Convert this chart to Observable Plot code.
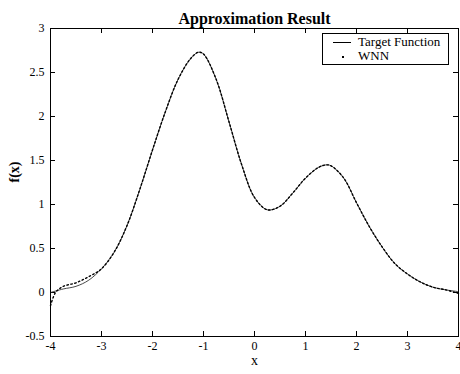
<!DOCTYPE html>
<html><head><meta charset="utf-8">
<script src="https://cdn.jsdelivr.net/npm/d3@7"></script>
<script src="https://cdn.jsdelivr.net/npm/@observablehq/plot@0.6"></script>
<style>
body{margin:0;background:#fff}
#wrap{position:relative;width:460px;height:374px}
#legend{position:absolute;left:322px;top:33px;width:127px;height:32px;border:1px solid #000;background:#fff;font-family:"Liberation Serif",serif;font-size:13px;line-height:14px;box-sizing:border-box}
#legend .row{position:absolute;left:0;height:14px}
#legend .sw{position:absolute;left:10px;top:7px;width:18px;height:0;border-top:1px solid #000}
#legend .dot{position:absolute;left:19px;top:7px;width:2px;height:2px;background:#000}
#legend .lab{position:absolute;left:35px;top:0;white-space:nowrap}
</style>
</head><body>
<div id="wrap"><div id="chart"></div>
<div id="legend">
  <div class="row" style="top:1px"><div class="sw"></div><div class="lab" id="l0"></div></div>
  <div class="row" style="top:15px"><div class="dot"></div><div class="lab" id="l1"></div></div>
</div></div>
<script>
const titleText = "Approximation Result";
const xLabel = "x";
const yLabel = "f(x)";
const legendLabels = ["Target Function", "WNN"];

const targetX = [-4,-3.75,-3.5,-3.25,-3,-2.75,-2.5,-2.25,-2,-1.75,-1.5,-1.25,-1.1,-1,-0.75,-0.5,-0.25,0,0.25,0.5,0.75,1,1.25,1.4,1.5,1.75,2,2.25,2.5,2.75,3,3.25,3.5,3.75,4];
const targetY = [0.0,0.04,0.07,0.14,0.27,0.46,0.76,1.17,1.62,2.05,2.42,2.66,2.73,2.71,2.42,1.94,1.45,1.08,0.94,0.98,1.13,1.30,1.42,1.45,1.44,1.30,1.02,0.75,0.52,0.33,0.21,0.12,0.06,0.03,0.01];

const wnnX = [-4,-3.9,-3.75,-3.5,-3.25,-3,-2.75,-2.5,-2.25,-2,-1.75,-1.5,-1.25,-1.1,-1,-0.75,-0.5,-0.25,0,0.25,0.5,0.75,1,1.25,1.4,1.5,1.75,2,2.25,2.5,2.75,3,3.25,3.5,3.75,4];
const wnnY = [-0.15,0.0,0.07,0.11,0.18,0.27,0.46,0.76,1.17,1.62,2.05,2.42,2.66,2.73,2.71,2.42,1.94,1.45,1.08,0.94,0.98,1.13,1.30,1.42,1.45,1.44,1.30,1.02,0.75,0.52,0.33,0.21,0.12,0.06,0.03,-0.01];

const xTicks = [-4,-3,-2,-1,0,1,2,3,4];
const xTickLabels = ["-4","-3","-2","-1","0","1","2","3","4"];
const yTicks = [-0.5,0,0.5,1,1.5,2,2.5,3];
const yTickLabels = ["-0.5","0","0.5","1","1.5","2","2.5","3"];

const target = targetX.map((x,i)=>({x, y: targetY[i]}));
const wnn = wnnX.map((x,i)=>({x, y: wnnY[i]}));

document.getElementById("l0").textContent = legendLabels[0];
document.getElementById("l1").textContent = legendLabels[1];

const W = 460, H = 374, mL = 50, mR = 2, mT = 28, mB = 38;
const fw = W - mL - mR, fh = H - mT - mB, tk = 5;

const chart = Plot.plot({
  width: W, height: H,
  marginLeft: mL, marginRight: mR, marginTop: mT, marginBottom: mB,
  style: {fontFamily: "Liberation Serif, serif", fontSize: "12px", background: "#fff", color: "#000"},
  x: {domain: [-4, 4]},
  y: {domain: [-0.5, 3]},
  marks: [
    Plot.axisX({ticks: xTicks, tickSize: 0, tickPadding: 5, tickFormat: (d)=>xTickLabels[xTicks.indexOf(d)], label: null}),
    Plot.axisY({ticks: yTicks, tickSize: 0, tickPadding: 6, tickFormat: (d)=>yTickLabels[yTicks.indexOf(d)], label: null}),
    Plot.tickX(xTicks, {x: d=>d, insetTop: fh - tk, stroke: "#000"}),
    Plot.tickX(xTicks, {x: d=>d, insetBottom: fh - tk, stroke: "#000"}),
    Plot.tickY(yTicks, {y: d=>d, insetRight: fw - tk, stroke: "#000"}),
    Plot.tickY(yTicks, {y: d=>d, insetLeft: fw - tk, stroke: "#000"}),
    Plot.line(target, {x: "x", y: "y", stroke: "#333", strokeWidth: 0.9, curve: "catmull-rom"}),
    Plot.line(wnn, {x: "x", y: "y", stroke: "#000", strokeWidth: 1.4, strokeDasharray: "1.5,2.5", curve: "catmull-rom"}),
    Plot.frame({stroke: "#000", strokeWidth: 1}),
    Plot.text([titleText], {text: d=>d, frameAnchor: "top", dy: -16, fontWeight: "bold", fontSize: 16, letterSpacing: "0.5px"}),
    Plot.text([yLabel], {text: d=>d, frameAnchor: "left", dx: -36, rotate: -90, fontWeight: "bold", fontSize: 14}),
    Plot.text([xLabel], {text: d=>d, frameAnchor: "bottom", dy: 28, fontSize: 14})
  ]
});
document.getElementById("chart").appendChild(chart);
</script>
</body></html>
